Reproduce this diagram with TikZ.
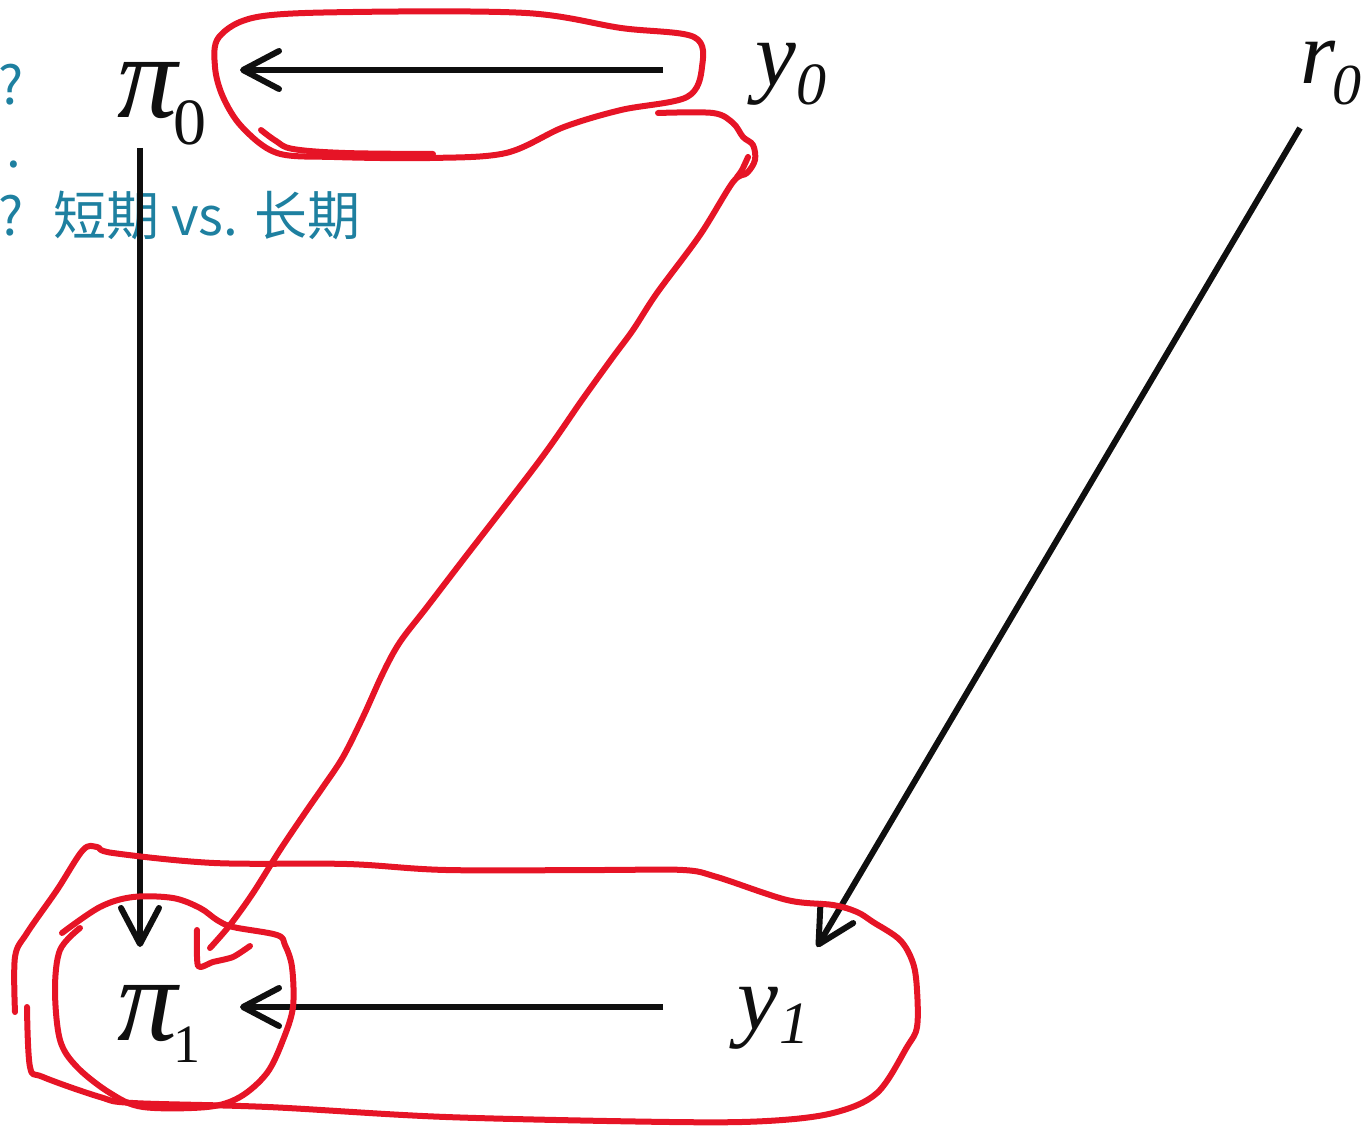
\documentclass[tikz,border=0pt]{standalone}
\usepackage{fontspec}
\setmainfont{Liberation Serif}
\newfontfamily\cjk{Noto Sans CJK SC}
\usetikzlibrary{arrows.meta}
\definecolor{ink}{RGB}{15,15,15}
\definecolor{penred}{RGB}{230,20,38}
\definecolor{tealtxt}{RGB}{30,128,160}
\begin{document}
\begin{tikzpicture}[x=1pt,y=-1pt,
  lbl/.style={inner sep=0pt, anchor=base west, text=ink},
  note/.style={inner sep=0pt, anchor=base west, text=tealtxt, font=\cjk\fontsize{53}{53}\selectfont},
  arr/.style={draw=ink, line width=6pt, -{Straight Barb[length=36pt,width=38pt,line width=6pt,round]}},
  pen/.style={draw=penred, line width=6pt, line cap=round, line join=round}]
\useasboundingbox (0,0) rectangle (1366,1126);

% teal notes (partly cut off)
\node[note] (q1) at (-2,105) {?};
\node[note] (q2) at (6,168) {.};
\node[note] (q3) at (-2,236) {?\hspace{30pt}短期 vs. 长期};

% variables
\node[lbl] (p0) at (117,118) {\fontsize{120}{120}\selectfont\itshape π\kern-4pt\raisebox{-27pt}{\upshape\fontsize{66}{66}\selectfont 0}};
\node[lbl] (y0) at (755,86) {\fontsize{92}{92}\selectfont\itshape y\kern0pt\raisebox{-19pt}{\fontsize{60}{60}\selectfont 0}};
\node[lbl] (r0) at (1300,84) {\fontsize{90}{90}\selectfont\itshape r\kern-3pt\raisebox{-21pt}{\fontsize{58}{58}\selectfont 0}};
\node[lbl] (p1) at (117,1040) {\fontsize{120}{120}\selectfont\itshape π\kern-4pt\raisebox{-22pt}{\upshape\fontsize{54}{54}\selectfont 1}};
\node[lbl] (y1) at (737,1029) {\fontsize{92}{92}\selectfont\itshape y\kern1pt\raisebox{-14pt}{\fontsize{60}{60}\selectfont 1}};

% connector ends
\coordinate (y0s) at (663,70);  \coordinate (p0e) at (240,70);
\coordinate (p0s) at (140,148); \coordinate (p1n) at (140,947);
\coordinate (y1s) at (663,1007); \coordinate (p1e) at (240,1007);
\coordinate (r0s) at (1300,128); \coordinate (y1n) at (817,947);

\draw[arr] (y0s) -- (p0e);
\draw[arr] (p0s) -- (p1n);
\draw[arr] (y1s) -- (p1e);
\draw[arr] (r0s) -- (y1n);

% red hand-drawn marks
\draw[pen] plot[smooth,tension=0.6] coordinates {(261,130) (276,141) (293,149) (345,153) (433,154)};
\draw[pen] plot[smooth cycle,tension=0.55] coordinates {(219,37) (215,67) (223,97) (242,127) (277,153) (334,157) (430,158) (506,153) (564,127) (621,110) (687,97) (702,67) (694,37) (621,28) (526,13) (353,12) (257,17)};
\draw[pen] plot[smooth,tension=0.55] coordinates {(658,113) (713,113) (733,123) (743,137) (753,145) (755,160) (747,173) (733,182) (700,235) (657,293) (633,330) (613,357) (582,400) (540,460) (463,560) (427,607) (400,642) (383,673) (363,717) (343,757) (323,787) (307,810) (280,850) (253,893) (230,925) (210,948)};
\draw[pen] plot[smooth,tension=0.5] coordinates {(748,157) (742,170) (737,177)};
\draw[pen] plot[smooth,tension=0.4] coordinates {(197,930) (198,966) (213,962) (233,957) (250,946)};
% circle round pi_1
\draw[pen] plot[smooth,tension=0.55] coordinates {(62,933) (100,907) (133,897) (173,898) (200,908) (217,920) (233,927) (277,935) (285,945) (292,967) (293,1007) (283,1040) (267,1073) (240,1097) (207,1107) (143,1107) (110,1093) (77,1067) (60,1040) (55,990) (60,950) (80,928)};
% big loop round pi_1 and y_1
\draw[pen] plot[smooth,tension=0.55] coordinates {(15,1012) (15,957) (27,933) (57,890) (83,850) (97,847) (113,853) (214,863) (347,864) (446,870) (600,870) (683,870) (717,877) (787,900) (833,905) (857,912) (873,922) (900,940) (913,963) (917,990) (917,1027) (907,1047) (877,1093) (833,1113) (767,1121) (670,1122) (446,1117) (268,1107) (133,1103) (100,1097) (43,1077) (30,1067) (27,1007)};
\end{tikzpicture}
\end{document}
